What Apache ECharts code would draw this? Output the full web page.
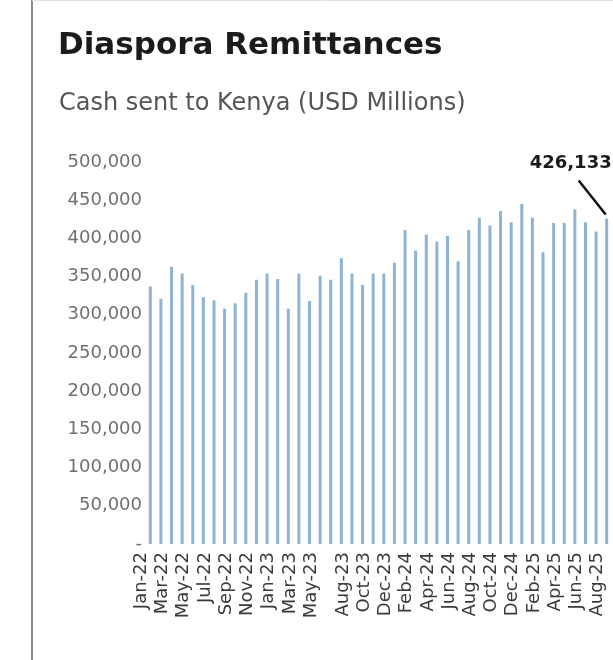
<!DOCTYPE html>
<html>
<head>
<meta charset="utf-8">
<script src="https://cdn.jsdelivr.net/npm/echarts@6/dist/echarts.min.js"></script>
<style>
  html, body { margin: 0; padding: 0; background: #ffffff; }
  #chart { width: 613px; height: 660px; }
</style>
</head>
<body>
<div id="chart"></div>
<script>
// Monthly diaspora remittances to Kenya
const months = [
  'Jan-22','Feb-22','Mar-22','Apr-22','May-22','Jun-22','Jul-22','Aug-22','Sep-22','Oct-22','Nov-22','Dec-22',
  'Jan-23','Feb-23','Mar-23','Apr-23','May-23','Jun-23','Jul-23','Aug-23','Sep-23','Oct-23','Nov-23','Dec-23',
  'Jan-24','Feb-24','Mar-24','Apr-24','May-24','Jun-24','Jul-24','Aug-24','Sep-24','Oct-24','Nov-24','Dec-24',
  'Jan-25','Feb-25','Mar-25','Apr-25','May-25','Jun-25','Jul-25','Aug-25'
];

const remittances = [
  337000, 321000, 363000, 354000, 339000, 323000, 319000, 308000, 315000, 329000, 346000, 354000,
  347000, 308000, 354000, 318000, 351000, 346000, 374000, 354000, 339000, 354000, 354000, 368000,
  411000, 384000, 405000, 396000, 403000, 370000, 411000, 427000, 417000, 436000, 421000, 445000,
  427000, 382000, 420000, 420000, 438000, 421000, 409000, 426133
];

const yTicks = [0, 50000, 100000, 150000, 200000, 250000, 300000, 350000, 400000, 450000, 500000];

const FONT = '"DejaVu Sans", sans-serif';
const lastIdx = remittances.length - 1;

// Month labels appear every other month, with one wider gap after May-23
function showMonthLabel(i) {
  return (i <= 16 && i % 2 === 0) || (i >= 19 && i % 2 === 1);
}

const barData = remittances.map((v, i) => {
  if (i !== lastIdx) return v;
  return {
    value: v,
    label: {
      show: true,
      position: 'top',
      offset: [-36, -41],
      formatter: (p) => p.value.toLocaleString('en-US'),
      fontFamily: FONT,
      fontWeight: 'bold',
      fontSize: 18,
      color: '#1a1a1a'
    }
  };
});

const chart = echarts.init(document.getElementById('chart'), null, { renderer: 'canvas' });

chart.setOption({
  animation: false,
  backgroundColor: '#ffffff',
  title: [
    {
      text: 'Diaspora Remittances',
      left: 53, top: 25,
      textStyle: { fontFamily: FONT, fontWeight: 'bold', fontSize: 31, color: '#1b1b1b' }
    },
    {
      text: 'Cash sent to Kenya (USD Millions)',
      left: 54, top: 87,
      textStyle: { fontFamily: FONT, fontWeight: 'normal', fontSize: 24, color: '#555555' }
    }
  ],
  grid: { left: 145, right: 1, top: 162, bottom: 116, containLabel: false },
  xAxis: {
    type: 'category',
    data: months,
    boundaryGap: true,
    axisLine: { show: false },
    axisTick: { show: false },
    axisLabel: {
      interval: (i) => showMonthLabel(i),
      rotate: 90,
      verticalAlign: 'bottom',
      margin: 8,
      fontFamily: FONT,
      fontSize: 18,
      color: '#3a3a3a'
    }
  },
  yAxis: {
    type: 'value',
    min: yTicks[0],
    max: yTicks[yTicks.length - 1],
    interval: yTicks[1] - yTicks[0],
    splitLine: { show: false },
    axisLine: { show: false },
    axisTick: { show: false },
    axisLabel: {
      margin: 3,
      fontFamily: FONT,
      fontSize: 18,
      color: '#707070',
      formatter: (v) => (v === 0 ? '-' : v.toLocaleString('en-US'))
    }
  },
  series: [{
    type: 'bar',
    data: barData,
    barWidth: 3,
    itemStyle: { color: '#8fb3d5' }
  }]
});

// Leader line from the value callout down to the latest bar, plus the frame lines
const tip = chart.convertToPixel({ seriesIndex: 0 }, [lastIdx, remittances[lastIdx]]);
chart.setOption({
  graphic: [
    {
      type: 'line',
      shape: { x1: tip[0] - 28, y1: tip[1] - 38, x2: tip[0] - 1, y2: tip[1] - 4 },
      style: { stroke: '#111111', lineWidth: 2.5 }
    },
    {
      type: 'line',
      shape: { x1: 32, y1: 0, x2: 32, y2: 660 },
      style: { stroke: '#8a8a8a', lineWidth: 2 }
    },
    {
      type: 'line',
      shape: { x1: 32, y1: 0.5, x2: 613, y2: 0.5 },
      style: { stroke: '#e2e2e2', lineWidth: 1 }
    }
  ]
});
</script>
</body>
</html>
